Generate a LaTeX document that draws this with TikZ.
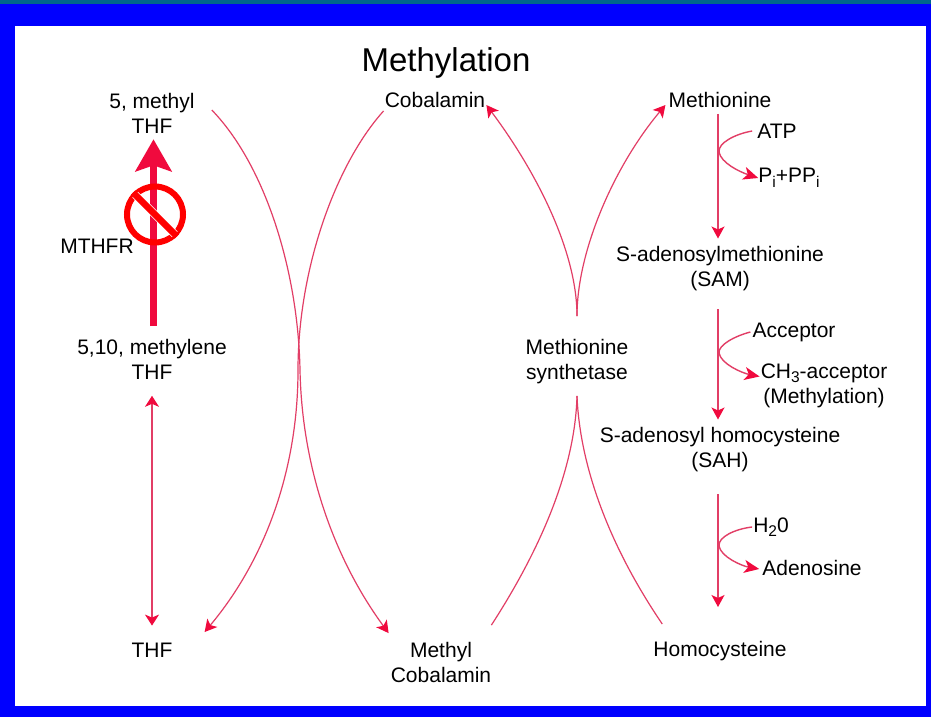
\documentclass[tikz,border=0pt]{standalone}
\usepackage{fontspec}
\setmainfont{Liberation Sans}
\usetikzlibrary{arrows.meta}
\definecolor{slideblue}{RGB}{0,0,255}
\definecolor{slideteal}{RGB}{0,102,140}
\definecolor{pathline}{RGB}{226,62,102}
\definecolor{pathhead}{RGB}{240,10,62}
\newcommand{\lowsub}[1]{\raisebox{-4.5pt}{\fontsize{15.5}{15.5}\selectfont #1}}
\tikzset{
	lbl/.style={inner sep=0pt, align=center, font=\fontsize{21}{25}\selectfont},
	path/.style={draw=pathline, line width=1.2pt, -{Stealth[length=12pt, width=13pt, inset=3pt, color=pathhead]}},
	both/.style={draw=pathline, line width=1.2pt, {Stealth[length=11pt, width=14pt, inset=3pt, color=pathhead]}-{Stealth[length=11pt, width=14pt, inset=3pt, color=pathhead]}},
	plain/.style={draw=pathline, line width=1.2pt},
	branch/.style={draw=pathline, line width=1.4pt, -{Stealth[length=15pt, width=13pt, inset=4pt, color=pathhead]}}
}
\begin{document}
\begin{tikzpicture}[x=1pt, y=-1pt]
	\useasboundingbox (0, 0) rectangle (931, 717);
	\fill [slideblue] (0, 0) rectangle (931, 717);
	\fill [slideteal] (0, 0) rectangle (931, 4);
	\fill [white] (15, 26) rectangle (926, 706);
	% labels
	\node [lbl, font=\fontsize{33}{38}\selectfont] (title) at (446, 63) {Methylation};
	\node [lbl] (methyl) at (152, 113) {5, methyl\\THF};
	\node [lbl] (mthfr) at (97, 246) {MTHFR};
	\node [lbl] (methylene) at (152, 359.5) {5,10, methylene\\THF};
	\node [lbl] (thf) at (152, 650) {THF};
	\node [lbl] (cobalamin) at (435, 100) {Cobalamin};
	\node [lbl] (mcobalamin) at (441, 662.5) {Methyl\\Cobalamin};
	\node [lbl] (synthetase) at (577, 361.5) {Methionine\\synthetase};
	\node [lbl] (methionine) at (720, 100) {Methionine};
	\node [lbl] (atp) at (777, 131) {ATP};
	\node [lbl] (pi) at (789, 178) {P\lowsub{i}+PP\lowsub{i}};
	\node [lbl] (sam) at (720, 269) {S-adenosylmethionine\\(SAM)};
	\node [lbl] (acceptor) at (794, 332) {Acceptor};
	\node [lbl] (ch3) at (824, 385.5) {CH\lowsub{3}-acceptor\\(Methylation)};
	\node [lbl] (sah) at (720, 450) {S-adenosyl homocysteine\\(SAH)};
	\node [lbl] (water) at (771, 527) {H\lowsub{2}0};
	\node [lbl] (adenosine) at (812, 568) {Adenosine};
	\node [lbl] (homocysteine) at (720, 651) {Homocysteine};
	% left column
	\draw [draw=pathhead, line width=7.5pt, -{Stealth[length=32pt, width=36pt, inset=6pt]}] ([shift={(1.5, -13)}]methylene.north) -- ([shift={(1.5, 6)}]methyl.south);
	\draw [both] ([yshift=-16pt]methylene.south) -- ([yshift=17pt]thf.north);
	\node [circle, draw=red, line width=6pt, minimum size=56pt, inner sep=0pt] (ban) at (155, 214.5) {};
	\draw [white, line width=8pt, shorten >=3pt, shorten <=3pt] (ban.north west) -- (ban.south east);
	\draw [red, line width=6.5pt] (ban.north west) -- (ban.south east);
	% crossing curves
	\draw [path] ([shift={(17, -3)}]methyl.east) .. controls (265, 165) and (298, 270) .. (300, 370) .. controls (302, 470) and (335, 560) .. ([shift={(-2, -9)}]mcobalamin.north west);
	\draw [path] ([shift={(-1, 3)}]cobalamin.south west) .. controls (335, 165) and (298, 270) .. (298, 370) .. controls (298, 470) and (265, 560) .. ([shift={(32, -18)}]thf.east);
	% synthetase curves
	\draw [path] ([yshift=23pt]synthetase.north) .. controls (577, 250) and (535, 170) .. ([shift={(1, 5)}]cobalamin.east);
	\draw [path] ([yshift=23pt]synthetase.north) .. controls (577, 250) and (615, 165) .. ([shift={(-3, 5)}]methionine.west);
	\draw [plain] ([yshift=-12pt]synthetase.south) .. controls (575, 470) and (540, 550) .. ([yshift=17pt]mcobalamin.north east);
	\draw [plain] ([yshift=-12pt]synthetase.south) .. controls (580, 470) and (612, 550) .. ([shift={(9, -17)}]homocysteine.north west);
	% right column
	\draw [path] ([shift={(-2, 6)}]methionine.south) -- ([shift={(-2, -8)}]sam.north);
	\draw [path] ([shift={(-2, 18)}]sam.south) -- ([shift={(-2, -8)}]sah.north);
	\draw [path] ([shift={(-2, 22)}]sah.south) -- ([shift={(-2, -34)}]homocysteine.north);
	\draw [branch] ([shift={(-5, 0)}]atp.west) .. controls (735, 134) and (718, 143) .. (719, 152) .. controls (721, 163) and (740, 172) .. (pi.west);
	\draw [branch] ([shift={(-2, 0)}]acceptor.west) .. controls (735, 336) and (718, 345) .. (719, 353) .. controls (721, 364) and (742, 373) .. ([shift={(-1, -9)}]ch3.west);
	\draw [branch] ([shift={(-1, 0)}]water.west) .. controls (735, 529) and (718, 537) .. (719, 546) .. controls (721, 557) and (742, 566) .. ([shift={(-3, 1)}]adenosine.west);
\end{tikzpicture}
\end{document}
